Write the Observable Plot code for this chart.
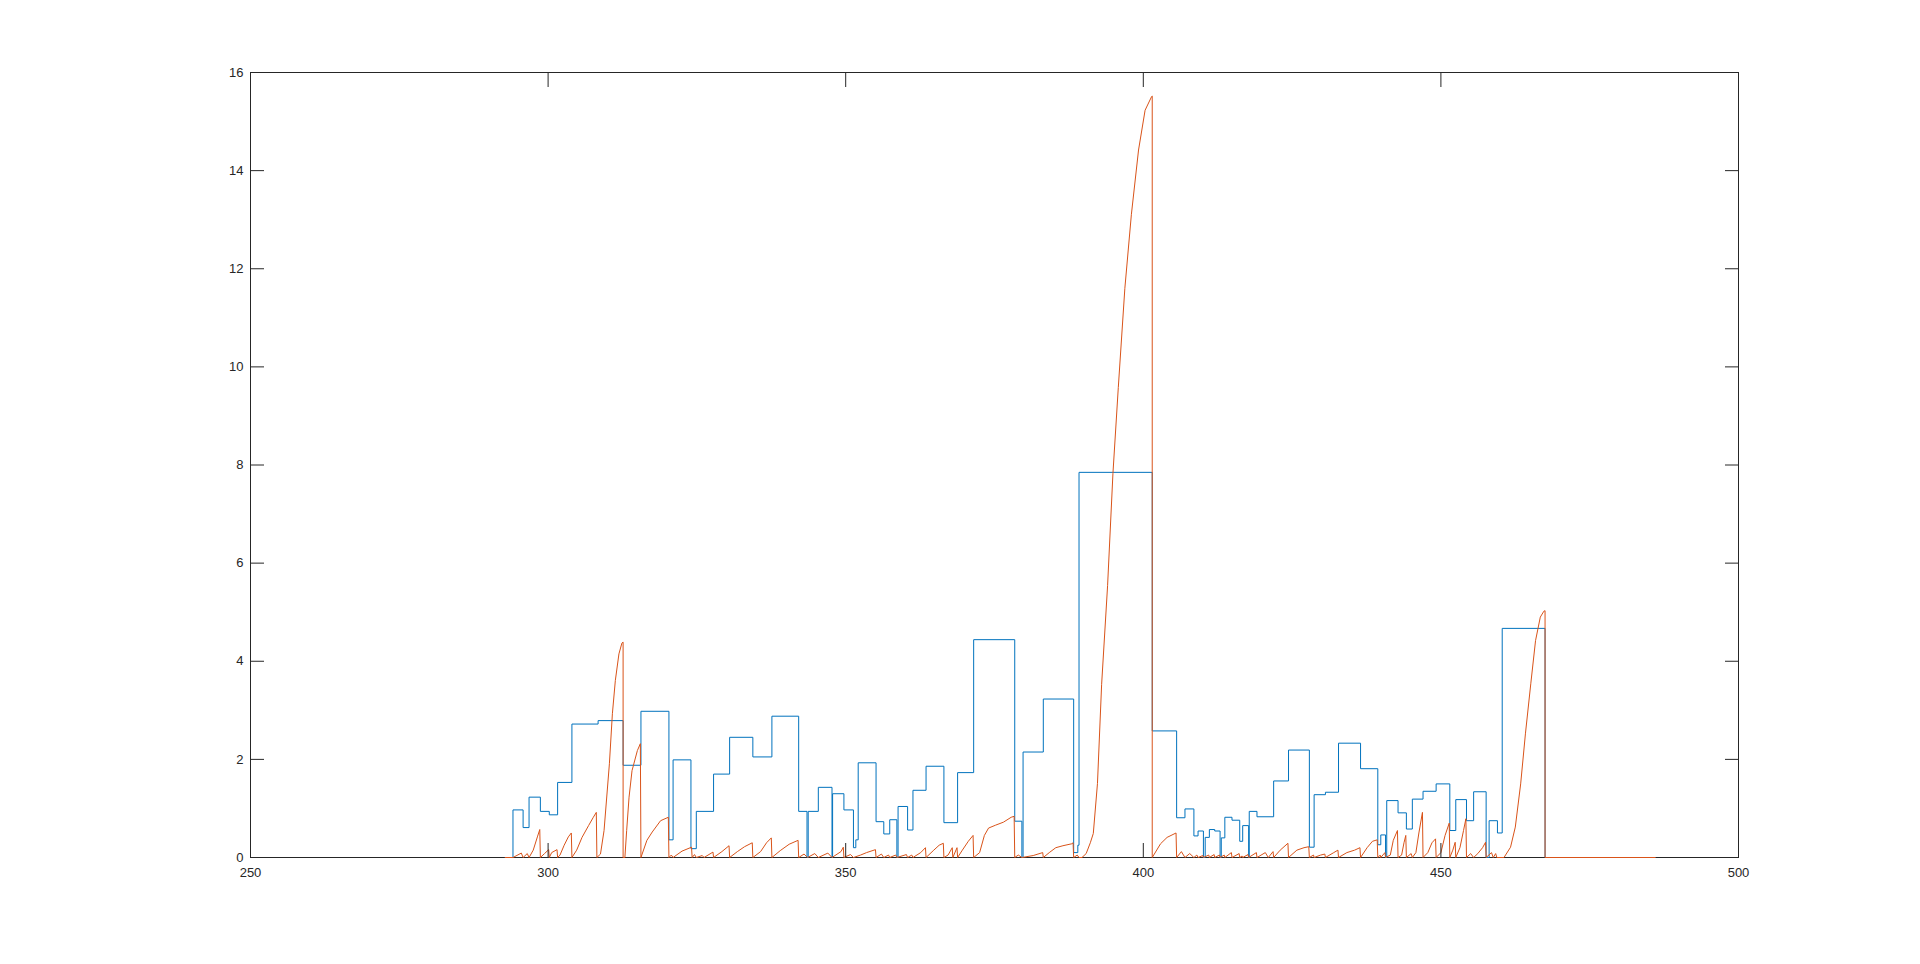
<!DOCTYPE html>
<html><head><meta charset="utf-8">
<script src="https://cdn.jsdelivr.net/npm/d3@7"></script>
<script src="https://cdn.jsdelivr.net/npm/@observablehq/plot@0.6"></script>
<style>html,body{margin:0;padding:0;background:#fff;overflow:hidden}</style>
</head><body><div id="chart"></div>
<script>
const xTicks = [250, 300, 350, 400, 450, 500];
const yTicks = [0, 2, 4, 6, 8, 10, 12, 14, 16];

// Blue series: step levels (value holds from x until next x)
const blueX = [292.8,294.1,295.8,296.8,298.7,300.2,301.6,304.0,308.4,312.6,315.6,320.3,321.0,324.0,324.9,327.8,330.5,334.4,337.6,342.1,343.5,343.7,345.4,347.7,347.8,349.7,351.3,351.7,352.1,355.1,356.4,357.4,358.6,358.8,360.4,361.3,363.5,366.5,368.8,371.5,378.4,379.6,379.8,383.2,388.3,389.0,389.2,401.5,405.6,407.0,408.5,409.2,410.1,410.4,411.1,412.0,412.9,413.1,413.7,414.9,416.2,416.7,417.7,417.8,419.1,421.9,424.4,427.9,428.7,430.6,432.8,436.5,439.4,439.9,440.7,440.9,442.8,444.2,445.2,447.0,449.2,451.5,452.5,454.3,455.5,457.6,458.1,459.5,460.3,467.5,486.0];
const blueY = [0,0.97,0.61,1.23,0.94,0.87,1.53,2.72,2.79,1.88,2.98,0.36,1.99,0.18,0.94,1.70,2.45,2.05,2.88,0.94,0,0.94,1.43,0,1.30,0.97,0.2,0.36,1.93,0.73,0.48,0.77,0,1.04,0.56,1.37,1.86,0.71,1.73,4.44,0.74,0,2.15,3.23,0.1,0.25,7.85,2.58,0.81,0.99,0.44,0.54,0,0.41,0.57,0.54,0,0.40,0.82,0.76,0.33,0.65,0,0.94,0.83,1.56,2.19,0.21,1.28,1.33,2.33,1.81,0.26,0.46,0,1.16,0.91,0.58,1.19,1.35,1.50,0.55,1.18,0.75,1.34,0,0.75,0.50,4.67,0,0];

// Orange series
const orangeX = [
292.8,294.1,295.5,295.8,296.5,296.8,297.5,298.2,298.6,298.7,299.4,300.1,300.2,300.6,301.5,301.6,
302.0,302.7,303.4,303.9,304.0,304.8,305.7,306.8,307.6,308.1,308.2,
308.8,309.4,310.3,310.8,311.3,311.9,312.4,312.6,312.6,
312.9,313.2,313.6,314.1,315.0,315.5,315.6,
316.6,317.5,318.9,320.2,320.3,320.7,321.0,322.5,324.1,324.2,324.6,324.9,325.9,326.2,327.7,327.8,
329.2,330.4,330.5,331.8,333.0,334.3,334.4,335.7,336.7,337.5,337.6,339.0,340.5,342.0,342.1,
343.0,343.6,344.8,345.4,347.0,347.7,349.2,349.6,349.7,350.8,351.3,352.5,353.5,355.0,355.1,
356.0,356.4,357.2,357.4,358.4,358.6,360.2,360.4,361.1,361.3,362.6,363.4,363.5,
364.8,365.7,366.4,366.5,367.2,367.9,368.0,368.7,368.8,369.6,370.6,371.4,371.5,
372.5,373.3,374.0,375.2,376.5,377.8,378.3,378.4,379.0,379.6,381.5,383.1,383.2,
384.2,385.3,386.5,388.0,388.2,388.3,388.9,389.2,
389.7,390.4,391.1,391.6,392.3,393.0,394.0,394.9,395.8,396.9,398.0,399.2,400.3,401.4,401.5,401.5,
402.9,404.0,405.5,405.6,406.4,407.0,407.8,408.5,409.0,409.2,410.0,410.1,411.0,411.1,411.9,412.0,
412.8,412.9,413.6,413.7,414.8,414.9,416.1,416.2,416.6,416.7,417.6,417.7,419.0,419.1,420.5,421.0,421.8,421.9,
423.0,424.3,424.4,425.8,427.0,427.8,427.9,428.6,428.7,429.8,430.5,430.6,432.0,432.7,432.8,
434.2,435.5,436.4,436.5,437.6,438.5,439.3,439.4,439.8,439.9,440.6,440.7,
441.5,442.0,442.7,442.8,443.4,443.8,444.1,444.2,445.0,445.2,445.8,446.3,446.9,447.0,
447.8,448.5,449.1,449.2,450.0,450.7,451.4,451.5,452.0,452.4,452.5,453.2,453.8,454.2,454.3,
455.0,455.5,456.2,457.0,457.5,457.6,458.5,458.8,459.2,459.4,
460.6,461.7,462.5,463.4,464.2,465.1,465.9,466.7,467.3,467.5,467.5,486.0];
const orangeY = [
0,0,0.09,0,0.08,0,0.15,0.42,0.57,0,0.08,0.16,0,0.1,0.16,0,
0.05,0.25,0.42,0.5,0,0.15,0.41,0.65,0.82,0.92,0,
0.07,0.55,1.91,2.93,3.61,4.15,4.37,4.39,0,
0,0.55,1.23,1.77,2.18,2.32,0,
0.35,0.52,0.75,0.82,0,0.05,0,0.13,0.21,0,0.06,0,0.04,0,0.11,0,
0.12,0.24,0,0.12,0.22,0.3,0,0.12,0.3,0.4,0,0.14,0.27,0.35,0,
0.07,0,0.08,0,0.09,0,0.12,0.21,0,0.06,0,0.05,0.1,0.16,0,
0.07,0,0.05,0,0.05,0,0.06,0,0.05,0,0.1,0.2,0,
0.15,0.25,0.29,0,0.05,0.2,0,0.2,0,0.15,0.33,0.45,0,
0.1,0.45,0.6,0.66,0.72,0.82,0.84,0,0.05,0,0.04,0.1,0,
0.1,0.2,0.24,0.28,0.3,0,0.05,0,
0,0.08,0.30,0.49,1.51,3.53,5.54,7.83,9.58,11.6,13.11,14.42,15.23,15.51,15.52,0,
0.28,0.41,0.5,0,0.12,0,0.08,0,0.05,0,0.04,0,0.05,0,0.06,0,
0.05,0,0.05,0,0.1,0,0.08,0,0.03,0,0.06,0,0.1,0,0.1,0,0.12,0,
0.15,0.29,0,0.15,0.2,0.22,0,0.05,0,0.05,0.07,0,0.1,0.15,0,
0.1,0.15,0.2,0,0.2,0.33,0.36,0,0.05,0,0.1,0,
0.05,0.35,0.55,0,0.05,0.3,0.45,0,0.08,0,0.1,0.5,0.92,0,
0.1,0.3,0.38,0,0.1,0.45,0.7,0,0.15,0.31,0,0.2,0.55,0.79,0,
0.08,0,0.08,0.2,0.31,0,0.1,0,0.08,0,
0,0.21,0.62,1.5,2.52,3.54,4.42,4.9,5.02,5.03,0,0];

const blue = blueX.map((x, i) => ({x, y: blueY[i]}));
const orange = orangeX.map((x, i) => ({x, y: orangeY[i]}));

const axisColor = "#262626";
const tick = 14;

const chart = Plot.plot({
  width: 1920, height: 964,
  marginLeft: 250, marginRight: 182, marginTop: 72, marginBottom: 107,
  style: {fontFamily: "'Liberation Sans', Arial, Helvetica, sans-serif", fontSize: "13px", color: axisColor, background: "#fff"},
  x: {domain: [250, 500]},
  y: {domain: [0, 16]},
  marks: [
    Plot.frame({stroke: axisColor, strokeWidth: 1}),
    Plot.line(blue, {x: "x", y: "y", curve: "step-after", stroke: "#0072BD", strokeWidth: 1}),
    Plot.line(orange, {x: "x", y: "y", stroke: "#D95319", strokeWidth: 1}),
    Plot.axisX({anchor: "bottom", ticks: xTicks, tickSize: 0, tickPadding: 10, label: null, tickFormat: d => String(d), fill: axisColor}),
    Plot.axisY({anchor: "left", ticks: yTicks, tickSize: 0, tickPadding: 7, label: null, tickFormat: d => String(d), fill: axisColor}),
    Plot.axisX({anchor: "bottom", ticks: xTicks, tickSize: tick, dy: -tick, fill: "none", stroke: axisColor, label: null}),
    Plot.axisX({anchor: "top", ticks: xTicks, tickSize: tick, dy: tick, fill: "none", stroke: axisColor, label: null}),
    Plot.axisY({anchor: "left", ticks: yTicks, tickSize: tick, dx: tick, fill: "none", stroke: axisColor, label: null}),
    Plot.axisY({anchor: "right", ticks: yTicks, tickSize: tick, dx: -tick, fill: "none", stroke: axisColor, label: null})
  ]
});
document.getElementById("chart").appendChild(chart);
</script>
</body></html>
